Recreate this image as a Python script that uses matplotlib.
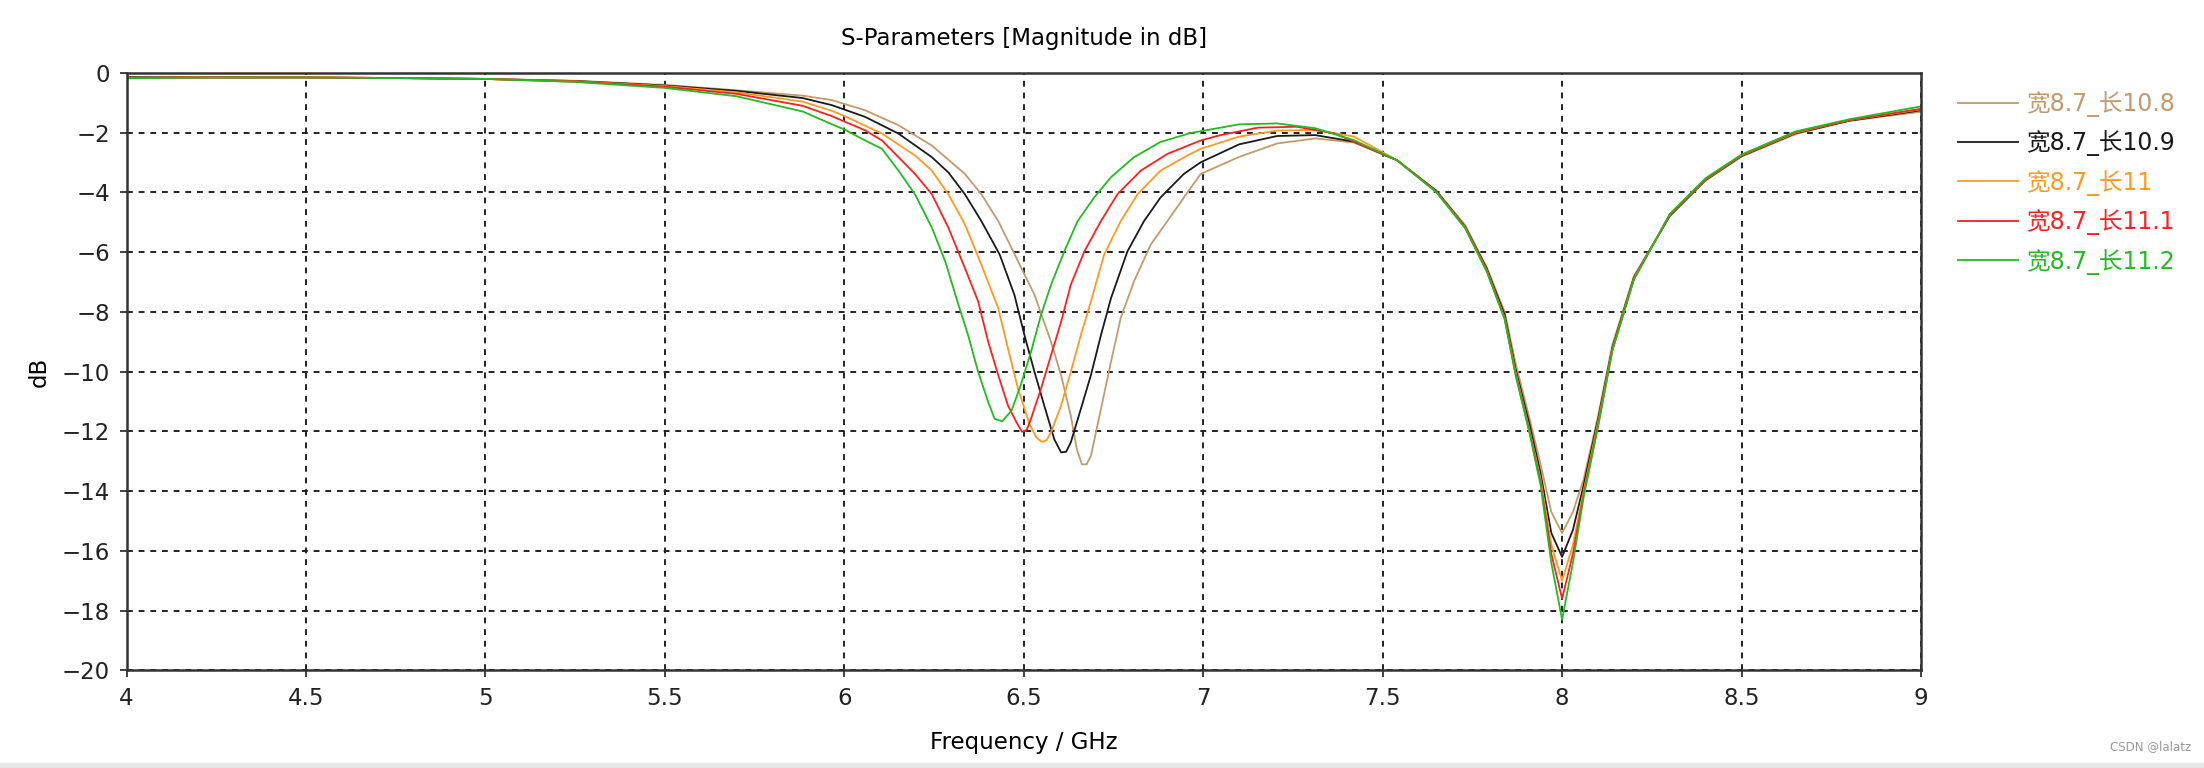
import matplotlib
matplotlib.use('Agg')
import matplotlib.pyplot as plt
from matplotlib.patches import Rectangle

### DATA

labels = ['宽8.7_长10.8', '宽8.7_长10.9', '宽8.7_长11', '宽8.7_长11.1', '宽8.7_长11.2']
colors = ['#C49A6C', '#1A1A1A', '#FF9922', '#FF2020', '#22BB22']

# shared low band
freq_low = [4.0, 4.25, 4.5, 4.75, 5.0, 5.25, 5.5, 5.7]
db_low_108 = [-0.15, -0.14, -0.15, -0.17, -0.20, -0.26, -0.40, -0.58]
db_low_109 = [-0.14, -0.15, -0.15, -0.17, -0.20, -0.27, -0.42, -0.60]
db_low_110 = [-0.16, -0.15, -0.15, -0.17, -0.20, -0.28, -0.44, -0.65]
db_low_111 = [-0.17, -0.15, -0.15, -0.17, -0.20, -0.29, -0.46, -0.70]
db_low_112 = [-0.18, -0.15, -0.15, -0.17, -0.20, -0.30, -0.50, -0.78]

# first resonance, each length read on its own points
freq_mid_108 = [5.884, 5.966, 6.058, 6.151, 6.244, 6.336, 6.382, 6.429, 6.475, 6.53, 6.576, 6.604,
                6.631, 6.648, 6.662, 6.675, 6.687, 6.715, 6.743, 6.77, 6.807, 6.854, 6.9, 6.946,
                6.993, 7.1, 7.206, 7.312, 7.42, 7.54]
db_mid_108 = [-0.76, -0.91, -1.25, -1.75, -2.43, -3.38, -4.06, -4.96, -6.08, -7.43, -9.0, -10.12,
              -11.47, -12.6, -13.1, -13.1, -12.82, -11.25, -9.67, -8.21, -6.98, -5.74, -4.96, -4.17,
              -3.38, -2.81, -2.36, -2.19, -2.33, -2.92]

freq_mid_109 = [5.884, 5.966, 6.058, 6.151, 6.244, 6.29, 6.336, 6.382, 6.433, 6.474, 6.502, 6.53,
                6.557, 6.585, 6.604, 6.618, 6.631, 6.659, 6.687, 6.715, 6.743, 6.789, 6.835, 6.881,
                6.946, 6.993, 7.1, 7.206, 7.312, 7.42, 7.54]
db_mid_109 = [-0.84, -1.08, -1.47, -2.03, -2.82, -3.33, -4.06, -4.96, -6.08, -7.43, -8.78, -10.01,
              -11.13, -12.26, -12.7, -12.68, -12.37, -11.25, -10.12, -8.78, -7.54, -5.97, -4.96, -4.17,
              -3.38, -2.99, -2.39, -2.11, -2.08, -2.3, -2.92]

freq_mid_110 = [5.884, 5.966, 6.0, 6.105, 6.197, 6.244, 6.29, 6.336, 6.382, 6.429, 6.456, 6.484,
                6.516, 6.535, 6.55, 6.563, 6.576, 6.604, 6.631, 6.659, 6.687, 6.724, 6.77, 6.817,
                6.881, 6.956, 6.993, 7.1, 7.206, 7.312, 7.42, 7.54]
db_mid_110 = [-0.96, -1.27, -1.44, -2.03, -2.76, -3.27, -4.06, -5.07, -6.42, -7.88, -9.22, -10.57,
              -11.75, -12.2, -12.35, -12.3, -12.03, -11.13, -10.01, -8.78, -7.65, -6.08, -4.96, -4.06,
              -3.27, -2.76, -2.54, -2.13, -1.93, -1.91, -2.13, -2.92]

freq_mid_111 = [5.884, 5.966, 6.058, 6.105, 6.151, 6.197, 6.244, 6.29, 6.336, 6.373, 6.401, 6.429,
                6.456, 6.48, 6.495, 6.508, 6.52, 6.548, 6.576, 6.604, 6.631, 6.669, 6.715, 6.761,
                6.826, 6.9, 6.993, 7.048, 7.153, 7.26, 7.365, 7.54]
db_mid_111 = [-1.1, -1.45, -1.92, -2.26, -2.82, -3.38, -4.06, -5.18, -6.53, -7.65, -9.0, -10.12,
              -11.13, -11.7, -12.01, -11.95, -11.58, -10.57, -9.45, -8.33, -7.09, -5.97, -4.96, -4.06,
              -3.27, -2.71, -2.26, -2.08, -1.83, -1.8, -2.02, -2.92]

freq_mid_112 = [5.884, 5.966, 6.0, 6.058, 6.105, 6.151, 6.197, 6.244, 6.281, 6.318, 6.345, 6.373,
                6.401, 6.419, 6.44, 6.466, 6.493, 6.52, 6.548, 6.576, 6.613, 6.65, 6.696, 6.743,
                6.807, 6.881, 6.965, 7.1, 7.206, 7.312, 7.42, 7.54]
db_mid_112 = [-1.29, -1.72, -1.89, -2.26, -2.54, -3.27, -4.06, -5.18, -6.3, -7.76, -8.78, -10.01,
              -11.02, -11.58, -11.66, -11.3, -10.4, -9.34, -8.1, -7.09, -5.97, -4.96, -4.17, -3.49,
              -2.82, -2.31, -2.01, -1.72, -1.69, -1.85, -2.25, -2.92]

# second resonance, shared sampling
freq_high = [7.65, 7.73, 7.79, 7.84, 7.87, 7.91, 7.94, 7.97, 8.0, 8.03, 8.06, 8.1,
             8.14, 8.2, 8.3, 8.4, 8.5, 8.65, 8.8, 9.0]
db_high_108 = [-3.95, -5.1, -6.5, -8.0, -9.7, -11.6, -13.1, -14.7, -15.4, -14.7, -13.6, -11.5,
               -9.1, -6.8, -4.8, -3.6, -2.8, -2.05, -1.6, -1.3]
db_high_109 = [-3.95, -5.15, -6.55, -8.1, -9.9, -11.8, -13.4, -15.4, -16.2, -15.3, -13.8, -11.6,
               -9.2, -6.85, -4.78, -3.58, -2.78, -2.02, -1.6, -1.25]
db_high_110 = [-3.98, -5.17, -6.6, -8.2, -10.0, -12.0, -13.6, -15.8, -17.0, -15.8, -14.0, -11.7,
               -9.25, -6.88, -4.75, -3.56, -2.76, -2.0, -1.58, -1.22]
db_high_111 = [-3.98, -5.18, -6.62, -8.22, -10.05, -12.05, -13.7, -16.1, -17.6, -16.1, -14.1, -11.8,
               -9.28, -6.9, -4.74, -3.55, -2.75, -1.98, -1.58, -1.2]
db_high_112 = [-4.0, -5.2, -6.65, -8.25, -10.1, -12.1, -13.8, -16.4, -18.3, -16.4, -14.2, -11.85,
               -9.3, -6.92, -4.72, -3.52, -2.73, -1.96, -1.55, -1.12]

x_ticks = [4, 4.5, 5, 5.5, 6, 6.5, 7, 7.5, 8, 8.5, 9]
x_tick_labels = ['4', '4.5', '5', '5.5', '6', '6.5', '7', '7.5', '8', '8.5', '9']
y_ticks = list(range(-20, 1, 2))

### PLOT

plt.rcParams['font.family'] = ['DejaVu Sans', 'Noto Sans CJK SC']

mids = [(freq_mid_108, db_mid_108), (freq_mid_109, db_mid_109), (freq_mid_110, db_mid_110),
        (freq_mid_111, db_mid_111), (freq_mid_112, db_mid_112)]
lows = [db_low_108, db_low_109, db_low_110, db_low_111, db_low_112]
highs = [db_high_108, db_high_109, db_high_110, db_high_111, db_high_112]

fig = plt.figure(figsize=(22.04, 7.68), dpi=100)
ax = fig.add_axes([0.0574, 0.127, 0.8142, 0.778])

for lab, col, lo, (fm, dm), hi in zip(labels, colors, lows, mids, highs):
    f = freq_low + fm + freq_high
    d = lo + dm + hi
    ax.plot(f, d, color=col, lw=1.3, label=lab)

ax.set_xlim(4, 9)
ax.set_ylim(-20, 0)
ax.set_xticks(x_ticks)
ax.set_xticklabels(x_tick_labels)
ax.set_yticks(y_ticks)
ax.tick_params(labelsize=16.5, direction='out', length=5, width=1.2, colors='#222222', pad=7)
ax.grid(True, color='#222222', linestyle=(0, (3, 3)), linewidth=1.4)
for s in ax.spines.values():
    s.set_linewidth(1.8)
    s.set_color('#333333')

ax.set_title('S-Parameters [Magnitude in dB]', fontsize=16.5, pad=20)
ax.set_xlabel('Frequency / GHz', fontsize=16.5, labelpad=15)
ax.set_ylabel('dB', fontsize=16.5, labelpad=8)

leg = ax.legend(loc='upper left', bbox_to_anchor=(0.884, 0.894), bbox_transform=fig.transFigure,
                frameon=False, fontsize=17, handlelength=2.55, handletextpad=0.35,
                labelspacing=0.57, borderaxespad=0)
for txt, col in zip(leg.get_texts(), colors):
    txt.set_color(col)

fig.text(0.994, 0.02, 'CSDN @lalatz', ha='right', va='bottom', fontsize=8.5, color='#999999')
fig.patches.append(Rectangle((0, 0), 1, 0.006, transform=fig.transFigure, color='#E6E6E6', zorder=-1))

fig.savefig('out.png', dpi=100)
